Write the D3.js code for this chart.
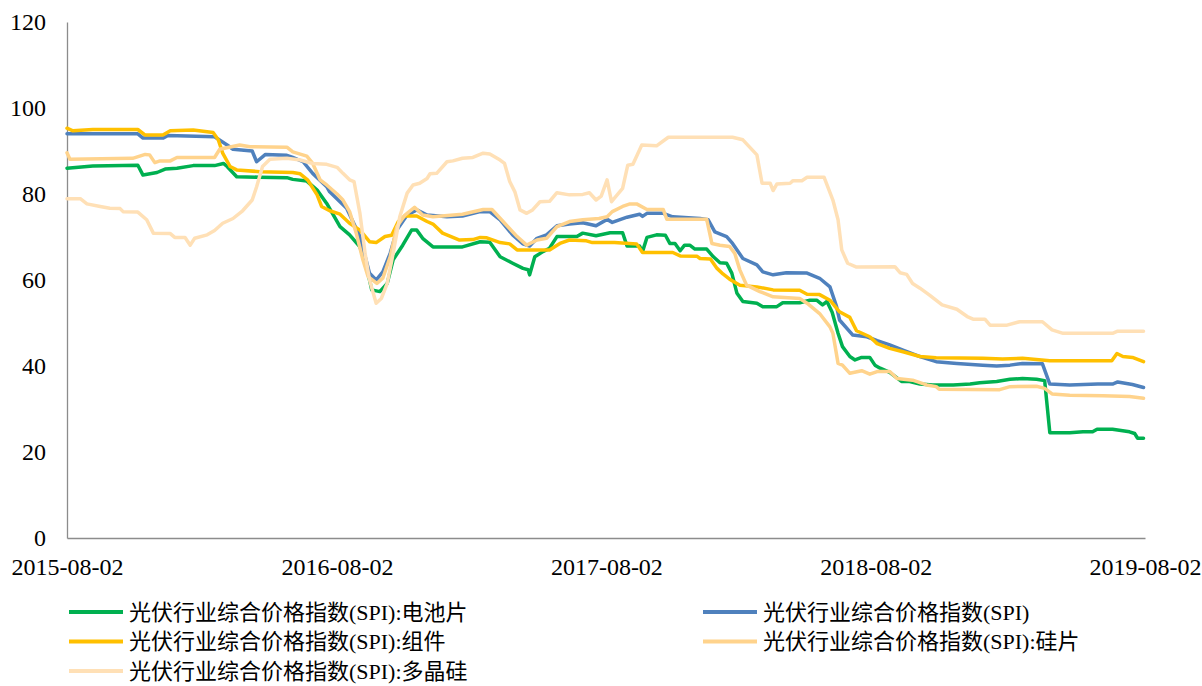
<!DOCTYPE html>
<html><head><meta charset="utf-8">
<script src="https://cdn.jsdelivr.net/npm/d3@7"></script>
<style>
html,body{margin:0;padding:0;background:#fff;}
svg{display:block;}
</style></head>
<body>
<svg id="chart" width="1202" height="686"></svg>
<script>
// ---- data ----
const xTickLabels = ["2015-08-02","2016-08-02","2017-08-02","2018-08-02","2019-08-02"];
const yTickValues = [0,20,40,60,80,100,120];

const seriesNames = [
  "光伏行业综合价格指数(SPI):电池片",
  "光伏行业综合价格指数(SPI)",
  "光伏行业综合价格指数(SPI):组件",
  "光伏行业综合价格指数(SPI):硅片",
  "光伏行业综合价格指数(SPI):多晶硅"
];
const seriesColors = ["#00B050","#4F81BD","#FFC000","#FFD38C","#FFE0B6"];

const cellData = [
["2015-08-02",86.0],["2015-09-06",86.5],["2015-11-06",86.7],["2015-11-13",84.4],["2015-12-02",85.0],["2015-12-13",85.8],
["2015-12-29",86.0],["2016-01-20",86.6],["2016-02-18",86.6],["2016-03-01",87.1],["2016-03-06",86.4],["2016-03-19",84.0],
["2016-04-19",83.9],["2016-05-26",83.8],["2016-06-03",83.4],["2016-06-22",83.0],["2016-07-06",80.9],["2016-07-19",77.8],
["2016-08-06",72.4],["2016-08-19",70.5],["2016-09-02",67.7],["2016-09-11",63.1],["2016-09-18",57.7],["2016-09-29",57.3],
["2016-10-09",59.2],["2016-10-17",64.7],["2016-10-30",68.1],["2016-11-11",71.6],["2016-11-18",71.6],["2016-11-26",69.7],
["2016-12-10",67.7],["2017-01-19",67.7],["2017-02-12",68.9],["2017-02-25",68.8],["2017-03-11",65.4],["2017-03-28",63.9],
["2017-04-11",62.7],["2017-04-18",62.4],["2017-04-20",61.2],["2017-04-27",65.4],["2017-05-08",66.6],["2017-05-17",67.4],
["2017-05-27",70.1],["2017-06-23",70.1],["2017-07-01",70.9],["2017-07-19",70.3],["2017-08-07",71.0],["2017-08-24",71.0],
["2017-08-30",67.9],["2017-09-16",67.9],["2017-09-20",66.6],["2017-09-26",69.9],["2017-10-09",70.5],["2017-10-21",70.4],
["2017-10-27",68.5],["2017-11-03",68.5],["2017-11-10",66.8],["2017-11-16",68.1],["2017-11-23",68.1],["2017-11-30",67.2],
["2017-12-16",67.2],["2017-12-25",65.4],["2018-01-03",64.0],["2018-01-12",63.9],["2018-01-19",61.6],["2018-01-26",56.9],
["2018-02-03",55.0],["2018-02-22",54.6],["2018-03-02",53.8],["2018-03-21",53.8],["2018-03-29",54.7],["2018-04-21",54.7],
["2018-05-05",55.3],["2018-05-14",55.3],["2018-05-22",54.2],["2018-05-28",55.0],["2018-06-04",52.5],["2018-06-12",47.6],
["2018-06-18",44.5],["2018-06-28",42.2],["2018-07-05",41.4],["2018-07-14",42.0],["2018-07-25",42.0],["2018-08-01",40.2],
["2018-08-08",39.5],["2018-08-21",38.5],["2018-09-06",36.4],["2018-09-17",36.4],["2018-10-01",35.8],["2018-10-18",35.6],
["2018-11-15",35.6],["2018-12-08",35.8],["2018-12-21",36.1],["2019-01-13",36.4],["2019-01-31",36.9],["2019-02-17",37.1],
["2019-03-08",36.9],["2019-03-19",36.6],["2019-03-26",24.5],["2019-04-22",24.5],["2019-05-10",24.7],["2019-05-23",24.7],
["2019-05-29",25.3],["2019-06-19",25.3],["2019-07-12",24.7],["2019-07-19",24.3],["2019-07-23",23.2],["2019-07-31",23.2]
];

const spiData = [
["2015-08-02",94.0],["2015-11-06",94.0],["2015-11-13",93.0],["2015-12-10",93.0],["2015-12-17",93.6],["2016-02-18",93.3],
["2016-03-06",91.4],["2016-03-14",90.4],["2016-04-09",90.0],["2016-04-15",87.5],["2016-04-27",89.2],["2016-05-26",89.0],
["2016-06-03",88.5],["2016-06-17",87.5],["2016-06-30",84.8],["2016-07-19",81.7],["2016-07-23",80.5],["2016-08-15",76.7],
["2016-09-02",70.1],["2016-09-15",61.6],["2016-09-24",60.0],["2016-10-03",61.9],["2016-10-13",66.2],["2016-10-22",71.6],
["2016-11-05",75.1],["2016-11-18",76.3],["2016-12-02",75.1],["2016-12-29",74.7],["2017-01-19",74.9],["2017-02-12",75.9],
["2017-02-25",75.9],["2017-03-11",74.0],["2017-03-28",70.5],["2017-04-11",68.4],["2017-04-20",67.9],["2017-04-30",69.7],
["2017-05-13",70.5],["2017-05-27",72.6],["2017-06-13",73.0],["2017-07-01",73.3],["2017-07-19",72.6],["2017-08-03",74.1],
["2017-08-10",73.4],["2017-08-30",74.6],["2017-09-16",75.3],["2017-09-20",74.8],["2017-09-26",75.5],["2017-10-18",75.5],
["2017-10-31",74.7],["2017-12-07",74.3],["2017-12-18",74.0],["2017-12-27",71.2],["2018-01-12",70.1],["2018-01-20",68.5],
["2018-02-03",65.0],["2018-02-22",63.5],["2018-03-02",61.9],["2018-03-16",61.2],["2018-04-03",61.7],["2018-05-01",61.6],
["2018-05-18",60.4],["2018-06-01",58.4],["2018-06-10",53.8],["2018-06-14",50.7],["2018-07-02",47.2],["2018-07-21",46.8],
["2018-08-04",45.9],["2018-08-21",44.9],["2018-09-08",43.7],["2018-10-01",42.2],["2018-10-23",41.0],["2018-11-20",40.6],
["2018-12-25",40.2],["2019-01-13",40.0],["2019-01-31",40.2],["2019-02-17",40.6],["2019-03-16",40.5],["2019-03-26",35.8],
["2019-04-22",35.6],["2019-05-30",35.8],["2019-06-19",35.8],["2019-06-26",36.3],["2019-07-16",35.7],["2019-07-31",35.0]
];

const moduleData = [
["2015-08-02",95.3],["2015-08-10",94.7],["2015-09-06",95.0],["2015-11-06",95.0],["2015-11-16",93.7],["2015-12-10",93.7],
["2015-12-20",94.7],["2016-01-20",94.9],["2016-02-16",94.3],["2016-02-23",92.6],["2016-02-29",89.5],["2016-03-10",86.4],
["2016-03-19",85.6],["2016-04-19",85.2],["2016-06-03",85.0],["2016-06-13",84.7],["2016-06-23",83.3],["2016-07-06",79.8],
["2016-07-12",77.1],["2016-07-23",76.1],["2016-08-06",75.3],["2016-08-19",73.2],["2016-09-02",71.6],["2016-09-15",68.9],
["2016-09-24",68.7],["2016-10-06",70.1],["2016-10-15",70.4],["2016-10-24",73.6],["2016-11-02",74.9],["2016-11-18",74.9],
["2016-12-02",73.6],["2016-12-10",73.0],["2016-12-23",70.9],["2017-01-15",69.3],["2017-02-02",69.4],["2017-02-12",69.9],
["2017-02-21",69.8],["2017-03-11",68.7],["2017-03-24",68.4],["2017-04-03",67.0],["2017-05-17",67.0],["2017-05-31",68.5],
["2017-06-13",69.3],["2017-07-06",69.1],["2017-07-14",68.7],["2017-08-13",68.7],["2017-09-12",68.4],["2017-09-20",66.4],
["2017-10-31",66.4],["2017-11-10",65.6],["2017-12-03",65.5],["2017-12-07",65.0],["2017-12-21",64.9],["2017-12-30",62.7],
["2018-01-07",61.4],["2018-01-16",60.2],["2018-01-30",58.8],["2018-02-22",58.4],["2018-03-16",57.7],["2018-04-21",57.6],
["2018-05-01",56.7],["2018-05-18",56.6],["2018-06-01",55.3],["2018-06-14",52.6],["2018-06-28",51.3],["2018-07-07",48.2],
["2018-07-25",46.8],["2018-08-04",45.2],["2018-08-21",44.1],["2018-09-08",43.3],["2018-10-01",42.2],["2018-10-23",41.9],
["2018-12-25",41.8],["2019-01-21",41.6],["2019-02-17",41.8],["2019-03-26",41.2],["2019-06-18",41.2],["2019-06-25",42.9],
["2019-07-03",42.2],["2019-07-16",42.0],["2019-07-31",41.0]
];

const waferData = [
["2015-08-02",89.6],["2015-08-06",88.1],["2015-10-30",88.3],["2015-11-16",89.2],["2015-11-22",89.1],["2015-11-29",87.3],
["2015-12-06",87.7],["2015-12-20",87.7],["2015-12-29",88.5],["2016-02-18",88.5],["2016-02-25",90.4],["2016-03-23",91.4],
["2016-04-06",91.0],["2016-05-26",90.9],["2016-06-03",89.8],["2016-06-22",88.8],["2016-06-30",87.1],["2016-07-10",83.3],
["2016-07-19",82.1],["2016-08-02",80.0],["2016-08-10",78.6],["2016-08-19",75.9],["2016-08-28",70.9],["2016-09-06",64.7],
["2016-09-13",60.8],["2016-09-25",59.2],["2016-10-03",60.4],["2016-10-13",65.4],["2016-10-22",72.4],["2016-11-02",75.1],
["2016-11-15",76.9],["2016-11-26",75.1],["2016-12-10",74.7],["2017-01-19",75.3],["2017-02-16",76.4],["2017-02-28",76.4],
["2017-03-15",73.6],["2017-04-03",70.1],["2017-04-16",68.1],["2017-04-30",69.3],["2017-05-13",69.7],["2017-05-27",72.4],
["2017-06-13",73.6],["2017-07-01",74.0],["2017-07-23",74.3],["2017-08-03",74.7],["2017-08-10",75.9],["2017-08-24",77.1],
["2017-09-03",77.7],["2017-09-12",77.7],["2017-09-26",76.4],["2017-10-18",76.4],["2017-10-23",74.1],["2017-12-16",74.1],
["2017-12-23",68.5],["2018-01-03",68.1],["2018-01-16",67.8],["2018-01-23",66.2],["2018-01-30",62.3],["2018-02-08",58.8],
["2018-02-26",57.3],["2018-03-16",56.1],["2018-04-21",55.7],["2018-05-01",54.6],["2018-05-18",52.2],["2018-06-01",49.1],
["2018-06-05",47.6],["2018-06-12",40.6],["2018-06-18",40.2],["2018-06-28",38.3],["2018-07-14",38.9],["2018-07-25",38.1],
["2018-08-04",38.7],["2018-08-21",38.7],["2018-08-31",37.1],["2018-09-21",36.7],["2018-10-10",35.6],["2018-10-23",35.2],
["2018-10-27",34.6],["2019-01-17",34.5],["2019-01-31",35.2],["2019-03-08",35.3],["2019-03-19",34.8],["2019-03-29",33.5],
["2019-04-22",33.2],["2019-06-06",33.1],["2019-07-12",32.9],["2019-07-31",32.5]
];

const polyData = [
["2015-08-02",78.9],["2015-08-20",78.9],["2015-08-29",77.7],["2015-09-16",77.1],["2015-09-29",76.7],["2015-10-13",76.6],
["2015-10-17",75.9],["2015-11-06",75.8],["2015-11-18",74.0],["2015-11-27",70.9],["2015-12-20",70.8],["2015-12-26",69.9],
["2016-01-09",69.9],["2016-01-16",68.1],["2016-01-22",69.7],["2016-02-08",70.5],["2016-02-18",71.5],["2016-02-29",73.2],
["2016-03-14",74.3],["2016-03-27",76.1],["2016-04-09",78.6],["2016-04-15",81.7],["2016-04-23",86.4],["2016-05-03",88.1],
["2016-05-26",88.3],["2016-06-13",87.9],["2016-06-30",87.1],["2016-07-19",86.9],["2016-08-02",86.2],["2016-08-10",84.8],
["2016-08-19",83.3],["2016-08-25",82.9],["2016-09-02",75.5],["2016-09-09",66.2],["2016-09-15",60.0],["2016-09-24",54.6],
["2016-10-01",55.7],["2016-10-09",59.2],["2016-10-17",66.2],["2016-10-26",74.7],["2016-11-05",80.2],["2016-11-13",82.1],
["2016-11-22",82.5],["2016-12-02",83.6],["2016-12-06",84.7],["2016-12-15",84.8],["2016-12-29",87.5],["2017-01-06",87.7],
["2017-01-19",88.3],["2017-02-02",88.5],["2017-02-16",89.5],["2017-02-25",89.3],["2017-03-11",87.9],["2017-03-17",87.1],
["2017-03-24",82.9],["2017-03-31",80.5],["2017-04-07",76.3],["2017-04-16",75.5],["2017-04-24",76.3],["2017-05-04",78.2],
["2017-05-17",78.3],["2017-05-27",80.3],["2017-06-13",79.8],["2017-07-01",79.9],["2017-07-10",80.3],["2017-07-19",78.6],
["2017-07-26",79.5],["2017-08-03",83.3],["2017-08-09",78.2],["2017-08-24",81.3],["2017-08-31",86.7],["2017-09-07",86.9],
["2017-09-19",91.4],["2017-10-09",91.2],["2017-10-25",93.2],["2018-01-20",93.2],["2018-02-03",92.6],["2018-02-22",89.1],
["2018-03-01",82.5],["2018-03-12",82.5],["2018-03-16",80.8],["2018-03-21",82.3],["2018-04-08",82.5],["2018-04-12",83.1],
["2018-04-24",83.1],["2018-05-01",83.9],["2018-05-24",83.9],["2018-06-05",78.6],["2018-06-12",74.0],["2018-06-17",67.0],
["2018-06-25",63.9],["2018-07-07",63.0],["2018-08-28",63.1],["2018-09-04",61.7],["2018-09-13",61.3],["2018-09-21",59.2],
["2018-10-01",58.1],["2018-10-14",56.5],["2018-10-31",54.2],["2018-11-20",53.2],["2018-12-04",51.5],["2018-12-12",50.9],
["2018-12-28",50.9],["2019-01-04",49.5],["2019-01-27",49.5],["2019-02-13",50.3],["2019-03-16",50.3],["2019-03-29",48.4],
["2019-04-13",47.6],["2019-06-19",47.6],["2019-06-26",48.1],["2019-07-31",48.1]
];

// ---- drawing ----
const parse = d3.timeParse("%Y-%m-%d");
const allSeries = [cellData, spiData, moduleData, waferData, polyData];

const svg = d3.select("#chart");
const plotLeft = 67, plotRight = 1145, plotTop = 22, plotBottom = 538;

const x = d3.scaleTime()
  .domain([parse(xTickLabels[0]), parse(xTickLabels[xTickLabels.length-1])])
  .range([plotLeft, plotRight]);
const y = d3.scaleLinear().domain([0,120]).range([plotBottom, plotTop]);

const serif = "'Liberation Serif','Times New Roman',serif";

// y axis
const yAxis = svg.append("g").attr("transform", `translate(${plotLeft},0)`)
  .call(d3.axisLeft(y).tickValues(yTickValues).tickSize(0).tickPadding(21).tickFormat(d3.format("d")));
yAxis.select(".domain").attr("stroke", "#8c8c8c").attr("stroke-width", 1.3);
yAxis.selectAll("text").attr("font-family", serif).attr("font-size", 24).attr("fill", "#000");

// x axis
const xAxis = svg.append("g").attr("transform", `translate(0,${plotBottom})`)
  .call(d3.axisBottom(x).tickValues(xTickLabels.map(parse)).tickSize(0).tickPadding(20)
    .tickFormat(d3.timeFormat("%Y-%m-%d")));
xAxis.select(".domain").attr("stroke", "#8c8c8c").attr("stroke-width", 1.3);
xAxis.selectAll("text").attr("font-family", serif).attr("font-size", 24).attr("fill", "#000");

// lines
const line = d3.line().x(d => x(parse(d[0]))).y(d => y(d[1]));
svg.append("g").selectAll("path").data(allSeries).join("path")
  .attr("d", line)
  .attr("fill", "none")
  .attr("stroke", (d,i) => seriesColors[i])
  .attr("stroke-width", 3.5)
  .attr("stroke-linejoin", "round")
  .attr("stroke-linecap", "round");

// legend (two columns, row-wise)
const legendFont = "'Liberation Serif','Times New Roman','Noto Sans CJK SC',serif";
const legend = svg.append("g");
seriesNames.forEach((name, i) => {
  const col = i % 2, row = Math.floor(i / 2);
  const lx = col === 0 ? 69 : 703;
  const ly = 612 + row * 29.5;
  legend.append("line").attr("x1", lx).attr("x2", lx + 54).attr("y1", ly).attr("y2", ly)
    .attr("stroke", seriesColors[i]).attr("stroke-width", 4);
  legend.append("text").attr("x", lx + 60).attr("y", ly).attr("dy", "0.35em")
    .attr("font-family", legendFont).attr("font-size", 22).attr("fill", "#000")
    .text(name);
});
</script>
</body></html>
